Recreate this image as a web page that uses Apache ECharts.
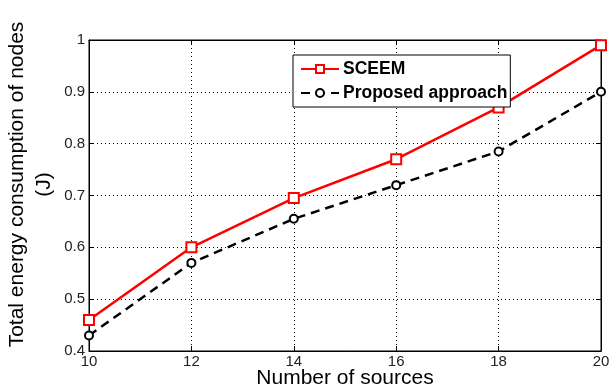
<!DOCTYPE html>
<html>
<head>
<meta charset="utf-8">
<script src="https://cdn.jsdelivr.net/npm/echarts@6/dist/echarts.min.js"></script>
<style>
  html, body { margin: 0; padding: 0; background: #fff; }
  #chart { width: 609px; height: 387px; }
</style>
</head>
<body>
<div id="chart"></div>
<script>
// values
const sources = [10, 12, 14, 16, 18, 20]
const sceem = [0.46, 0.60, 0.695, 0.77, 0.87, 0.99]
const proposed = [0.43, 0.57, 0.655, 0.72, 0.785, 0.90]
const yTicks = [0.4, 0.5, 0.6, 0.7, 0.8, 0.9, 1]

const font = 'Arial, "Liberation Sans", sans-serif'

const chart = echarts.init(document.getElementById('chart'))

const gridLine = { show: true, lineStyle: { color: '#000', type: [1, 3], width: 1 } }
const tick = { inside: true, length: 5, lineStyle: { color: '#000' } }
const axisLine = { lineStyle: { color: '#000', width: 1 } }

const option = {
  animation: false,
  backgroundColor: '#fff',
  grid: {
    left: 89, right: 8, top: 40, bottom: 36,
    outerBoundsMode: 'none',
    show: true, borderColor: '#000', borderWidth: 1,
  },
  legend: {
    left: 293, top: 55,
    orient: 'vertical',
    backgroundColor: '#fff',
    borderColor: '#000',
    borderWidth: 1,
    borderRadius: 0,
    padding: [5, 3, 5, 7],
    itemGap: 6,
    itemWidth: 38,
    itemHeight: 10,
    textStyle: { fontFamily: font, fontWeight: 'bold', fontSize: 17.5, color: '#000', padding: [0, 0, 0, -1] },
    data: ['SCEEM', 'Proposed approach'],
  },
  xAxis: [
    {
      type: 'value',
      min: 10, max: 20, interval: 2,
      name: 'Number of sources',
      nameLocation: 'middle',
      nameMoveOverlap: false,
      nameGap: 17,
      nameTextStyle: { fontFamily: font, fontSize: 21, color: '#000' },
      axisLine: axisLine,
      axisTick: tick,
      axisLabel: { fontFamily: font, fontSize: 15, color: '#222', margin: 3 },
      splitLine: gridLine,
    },
    {
      type: 'value', position: 'top',
      min: 10, max: 20, interval: 2,
      axisLine: axisLine, axisTick: tick,
      axisLabel: { show: false }, splitLine: { show: false },
    },
  ],
  yAxis: [
    {
      type: 'value',
      min: 0.4, max: 1, interval: 0.1,
      name: 'Total energy consumption of nodes\n(J)',
      nameLocation: 'middle',
      nameMoveOverlap: false,
      nameGap: 31,
      nameRotate: 90,
      nameTextStyle: {
        fontFamily: font, fontSize: 21, color: '#000', lineHeight: 27,
        padding: [0, 0, 0, 22],
      },
      axisLine: axisLine,
      axisTick: tick,
      axisLabel: {
        fontFamily: font, fontSize: 15, color: '#222', margin: 4,
        formatter: v => yTicks.includes(+v.toFixed(1)) ? String(+v.toFixed(1)) : '',
      },
      splitLine: gridLine,
    },
    {
      type: 'value', position: 'right',
      min: 0.4, max: 1, interval: 0.1,
      axisLine: axisLine, axisTick: tick,
      axisLabel: { show: false }, splitLine: { show: false },
    },
  ],
  series: [
    {
      name: 'SCEEM',
      type: 'line',
      data: sources.map((x, i) => [x, sceem[i]]),
      symbol: 'emptyRect',
      symbolSize: 10,
      lineStyle: { color: '#ff0000', width: 2.5 },
      itemStyle: { color: '#ff0000', borderColor: '#ff0000', borderWidth: 2 },
      z: 3,
    },
    {
      name: 'Proposed approach',
      type: 'line',
      data: sources.map((x, i) => [x, proposed[i]]),
      symbol: 'emptyCircle',
      symbolSize: 8,
      lineStyle: { color: '#000', width: 2.5, type: [9, 6] },
      itemStyle: { color: '#000', borderColor: '#000', borderWidth: 2 },
      z: 2,
    },
  ],
}

chart.setOption(option)
</script>
</body>
</html>
